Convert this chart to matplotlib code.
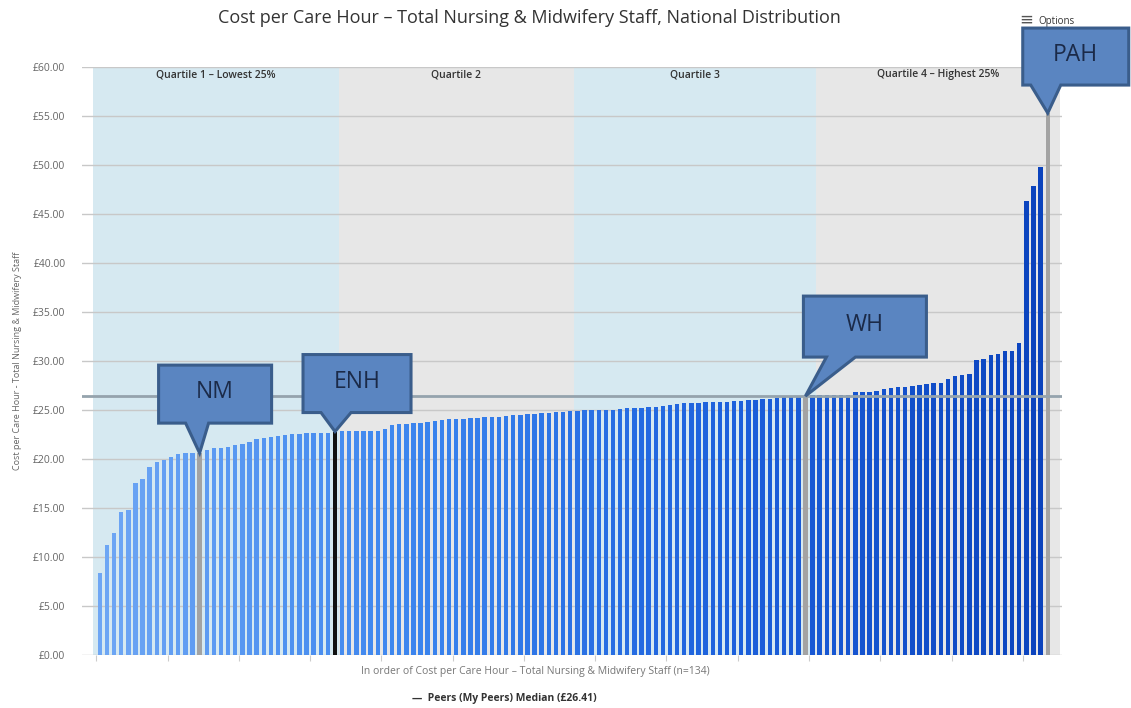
import numpy as np
import matplotlib
matplotlib.use("Agg")
import matplotlib.pyplot as plt
from matplotlib.colors import LinearSegmentedColormap
from matplotlib.patches import Polygon

plt.rcParams['font.family'] = ['Open Sans', 'DejaVu Sans']

# Cost per care hour (£) for each trust, sorted low to high (n=134)
q1_costs = [8.4, 11.2, 12.4, 14.6, 14.8, 17.6, 18.0, 19.2, 19.7, 19.9,
            20.2, 20.5, 20.6, 20.6, 20.6, 20.9, 21.1, 21.1, 21.2, 21.4,
            21.5, 21.7, 22.0, 22.1, 22.2, 22.3, 22.4, 22.6, 22.6, 22.7,
            22.7, 22.7, 22.7, 22.8]
q2_costs = [22.9, 22.9, 22.9, 22.9, 22.9, 22.9, 23.06, 23.47, 23.54, 23.54,
            23.71, 23.71, 23.81, 23.91, 23.98, 24.05, 24.05, 24.05, 24.15, 24.22,
            24.25, 24.32, 24.32, 24.38, 24.45, 24.49, 24.59, 24.59, 24.66, 24.66,
            24.76, 24.83, 24.9]
q3_costs = [24.92, 24.95, 25.0, 25.0, 25.0, 25.0, 25.07, 25.17, 25.17, 25.17,
            25.34, 25.34, 25.4, 25.51, 25.6, 25.68, 25.68, 25.68, 25.78, 25.85,
            25.85, 25.85, 25.95, 25.95, 26.02, 26.02, 26.09, 26.16, 26.19, 26.29,
            26.36, 26.38, 26.42, 26.5]
q4_costs = [26.53, 26.53, 26.53, 26.53, 26.53, 26.8, 26.8, 26.87, 26.97, 27.1,
            27.2, 27.38, 27.38, 27.45, 27.55, 27.62, 27.72, 27.79, 28.13, 28.47,
            28.57, 28.64, 30.1, 30.17, 30.6, 30.7, 31.05, 31.05, 31.8, 46.3,
            47.9, 49.8, 55.3]
costs = q1_costs + q2_costs + q3_costs + q4_costs

peer_median = 26.41

# highlighted trusts: label, position in the sorted list, bar colour
trust_labels = ["NM", "ENH", "WH", "PAH"]
trust_index = [14, 33, 99, 133]
trust_colors = ["#a3a3a3", "#111111", "#a3a3a3", "#a3a3a3"]

quartile_labels = ["Quartile 1 \u2013 Lowest 25%", "Quartile 2", "Quartile 3",
                   "Quartile 4 \u2013 Highest 25%"]
quartile_edges = [-1, 33.5, 66.5, 100.5, 134.7]
quartile_fills = ["#d6e9f1", "#e7e7e7", "#d6e9f1", "#e7e7e7"]

n = len(costs)
x = np.arange(n)

fig = plt.figure(figsize=(11.31, 7.08), dpi=100)
ax = fig.add_axes([82 / 1131, 53 / 708, 980 / 1131, 588 / 708])
ax.set_xlim(-2.5, 135)
ax.set_ylim(0, 60)

# quartile bands with their headings
for i, lab in enumerate(quartile_labels):
    x0, x1 = quartile_edges[i], quartile_edges[i + 1]
    ax.axvspan(x0, x1, color=quartile_fills[i], zorder=0, lw=0)
    ax.text((x0 + x1) / 2, 59.2, lab, ha='center', va='center',
            fontsize=7.5, color='#333333', fontweight='semibold')

# gridlines
yt = np.arange(0, 61, 5)
for v in yt:
    ax.axhline(v, color='#c8c8c8', lw=1, zorder=1)

# bars shaded from light to dark blue
cmap = LinearSegmentedColormap.from_list(
    "blues", ["#6ea6f4", "#3a84ee", "#1c60dc", "#0b43bd"])
colors = [cmap(i / (n - 1)) for i in range(n)]
for idx, c in zip(trust_index, trust_colors):
    colors[idx] = c
ax.bar(x, costs, width=0.62, color=colors, zorder=2, lw=0)

# peer median line
ax.axhline(peer_median, color='#95a3ad', lw=2, zorder=3)

ax.set_yticks(yt)
ax.set_yticklabels([f"£{v:.2f}" for v in yt], fontsize=7.5, color='#666666')
ax.set_xticks(np.arange(-0.5, n, 10))
ax.set_xticklabels([])
ax.tick_params(axis='x', length=4, color='#cccccc')
ax.tick_params(axis='y', length=0, pad=12)
for s in ax.spines.values():
    s.set_visible(False)

ax.set_ylabel("Cost per Care Hour - Total Nursing & Midwifery Staff",
              fontsize=6.5, color='#666666', labelpad=8)
ax.set_xlabel("In order of Cost per Care Hour \u2013 Total Nursing & Midwifery Staff (n=134)",
              fontsize=7.5, color='#777777')
ax.xaxis.set_label_coords((535 - 82) / 980, -0.018)

fig.text(0.468, 0.974,
         "Cost per Care Hour \u2013 Total Nursing & Midwifery Staff, National Distribution",
         ha='center', va='center', fontsize=13, color='#333333')
fig.text(0.907, 0.972, "\u2261", ha='center', va='center', fontsize=12, color='#555555',
         family='DejaVu Sans')
fig.text(0.918, 0.969, "Options", ha='left', va='center', fontsize=7, color='#333333')

# legend entry for the median line
fig.text(0.446, 0.013, "\u2014  Peers (My Peers) Median (£26.41)", ha='center',
         va='center', fontsize=7.5, fontweight='bold', color='#333333')

# callout boxes pointing at each highlighted trust, in pixels from the tip:
# box left, box width, box bottom, box height, pointer base left, pointer base right
callouts = {
    "NM": (-41, 113, 30, 58, -14, 9),
    "ENH": (-32, 108, 19, 58, -14, 16),
    "WH": (-2, 123, 39, 61, 21, 50),
    "PAH": (-25, 106, 28, 57, -17, 13),
}
fig.canvas.draw()
for lab, idx in zip(trust_labels, trust_index):
    tx, ty = ax.transData.transform((idx, costs[idx]))
    bl, bw, bb, bh, p0, p1 = callouts[lab]
    left, right = tx + bl, tx + bl + bw
    bottom, top = ty + bb, ty + bb + bh
    pts = [(left, top), (right, top), (right, bottom),
           (tx + p1, bottom), (tx, ty), (tx + p0, bottom), (left, bottom)]
    poly = Polygon(pts, closed=True, transform=None, facecolor='#5a85c1',
                   edgecolor='#3a5d8b', lw=2.2, zorder=10)
    fig.add_artist(poly)
    fig.text((left + right) / 2 / 1131, (bottom + bh / 2 + 2) / 708, lab,
             ha='center', va='center', fontsize=16.5, color='#1b2a48', zorder=11)

fig.savefig("out.png", dpi=100)
